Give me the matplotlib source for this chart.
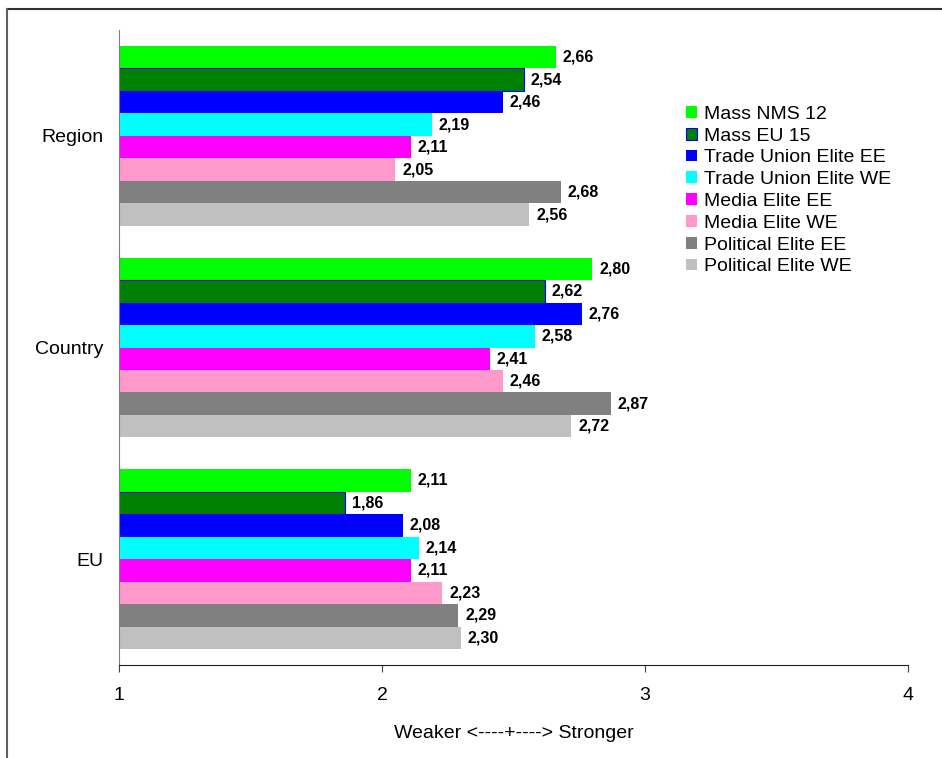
import numpy as np
import matplotlib.pyplot as plt
from matplotlib.lines import Line2D

plt.rcParams['font.family'] = ['Liberation Sans', 'DejaVu Sans']

categories = ['Region', 'Country', 'EU']
series = ['Mass NMS 12', 'Mass EU 15', 'Trade Union Elite EE', 'Trade Union Elite WE',
          'Media Elite EE', 'Media Elite WE', 'Political Elite EE', 'Political Elite WE']
colors = ['#00FF00', '#008000', '#0000FF', '#00FFFF',
          '#FF00FF', '#FF99CC', '#808080', '#C0C0C0']

# one row per series, columns follow categories
values = [
    [2.66, 2.80, 2.11],
    [2.54, 2.62, 1.86],
    [2.46, 2.76, 2.08],
    [2.19, 2.58, 2.14],
    [2.11, 2.41, 2.11],
    [2.05, 2.46, 2.23],
    [2.68, 2.87, 2.29],
    [2.56, 2.72, 2.30],
]
xticks = [1, 2, 3, 4]

fig = plt.figure(figsize=(9.42, 7.58), dpi=100)
ax = fig.add_axes([0.1263, 0.1227, 0.8376, 0.8377])

y = np.arange(len(categories))
h = 0.85 / len(series)
for i, (name, col, vals) in enumerate(zip(series, colors, values)):
    pos = y + (i - 3.5) * h
    edge = '#0000FF' if name == 'Mass EU 15' else 'none'
    ax.barh(pos, vals, height=h, color=col, edgecolor=edge,
            linewidth=0.8 if edge != 'none' else 0, label=name)
    for p, v in zip(pos, vals):
        ax.annotate(f'{v:.2f}'.replace('.', ','), (v, p), xytext=(5, 0),
                    textcoords='offset points', va='center', ha='left',
                    fontsize=11.5, fontweight='bold')

ax.set_xlim(1, 4)
ax.set_ylim(-0.5, 2.5)
ax.invert_yaxis()
ax.set_yticks(y)
ax.set_yticklabels(categories, fontsize=14)
ax.tick_params(axis='y', length=0, pad=11)
ax.set_xticks(xticks)
ax.set_xticklabels([str(t) for t in xticks], fontsize=14)
ax.tick_params(axis='x', length=5, color='#404040', pad=11)
ax.set_xlabel('Weaker <----+----> Stronger', fontsize=14, labelpad=15)

for s in ['top', 'right']:
    ax.spines[s].set_visible(False)
ax.spines['left'].set_color('#808080')
ax.spines['bottom'].set_color('#202020')

ax.legend(loc='upper left', bbox_to_anchor=(0.72, 0.8705), bbox_transform=fig.transFigure,
          frameon=False, fontsize=14, handlelength=0.55, handleheight=0.55,
          handletextpad=0.4, labelspacing=0.245, borderaxespad=0)

# outer frame (top and left edges)
fig.add_artist(Line2D([7 / 942, 1], [1 - 8.5 / 758, 1 - 8.5 / 758], color='#303030', lw=1.5))
fig.add_artist(Line2D([7 / 942, 7 / 942], [0, 1 - 8.5 / 758], color='#606060', lw=1.5))

fig.savefig('out.png', dpi=100)
